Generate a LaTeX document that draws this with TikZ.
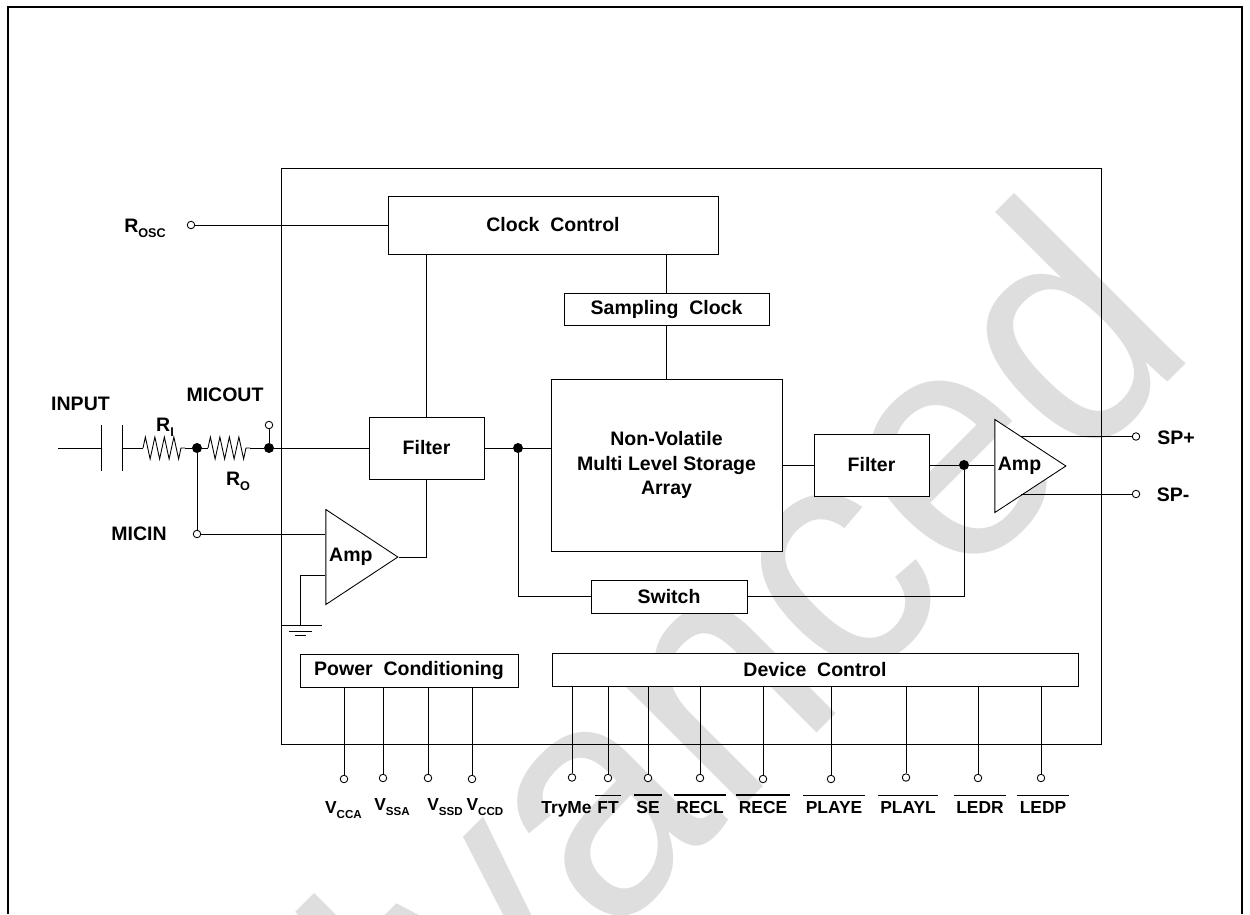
\documentclass[tikz,border=0pt]{standalone}
\usepackage{fontspec}
\setmainfont{Liberation Sans}
\newfontfamily\markfont[FakeStretch=0.92]{Liberation Sans}
\usepackage{tikz}
\usetikzlibrary{shapes.geometric, decorations.pathmorphing}
\newcommand{\pinsub}[2][7.2]{\raisebox{-3.3pt}{\fontsize{#1}{8}\selectfont #2}}
\newcommand{\pinbar}[1]{\leavevmode\vbox{\hrule height 0.7pt \kern 3pt \hbox{\kern 1.4pt #1\kern 1.4pt}}}

\begin{document}
\begin{tikzpicture}[
  x=0.02cm, y=-0.02cm, line width=0.5pt,
  box/.style={draw, fill=white, inner sep=0pt, align=center,
              font=\bfseries\fontsize{11.1}{13.7}\selectfont},
  amp/.style={draw, fill=white, isosceles triangle, isosceles triangle stretches,
              inner sep=0pt, anchor=apex, font=\bfseries\fontsize{11.1}{13.7}\selectfont},
  lbl/.style={inner sep=0pt, font=\bfseries\fontsize{11.1}{13.7}\selectfont},
  toplbl/.style={lbl, anchor=base},
  pinlbl/.style={inner sep=0pt, anchor=base, font=\bfseries\fontsize{9.9}{12}\selectfont},
  term/.style={draw, fill=white, circle, inner sep=0pt, minimum size=0.15cm},
  dot/.style={fill=black, circle, inner sep=0pt, minimum size=0.2cm},
  res/.style={decorate, decoration={zigzag, segment length=0.19cm, amplitude=0.22cm}}
]
  \useasboundingbox (0,0) rectangle (1250,914);

  % watermark
  \begin{scope}
    \clip (0,0) rectangle (1250,914);
    \node[text=black!13, inner sep=0pt, rotate=45, anchor=base east,
          font=\markfont\fontsize{190}{190}\selectfont] (mark) at (1201,349) {Advanced};
  \end{scope}

  % frames
  \draw[line width=1.2pt] (8,914) -- (8,7) -- (1242,7) -- (1242,914);
  \draw (281,168) rectangle (1101,744);

  % blocks
  \node[box, minimum width=6.6cm,  minimum height=1.16cm] (clock)     at (553,225)   {Clock~~Control};
  \node[box, minimum width=4.1cm,  minimum height=0.64cm] (sampling)  at (666.5,309) {Sampling~~Clock};
  \node[box, minimum width=4.62cm, minimum height=3.44cm] (storage)   at (666.5,465) {Non-Volatile\\Multi Level Storage\\Array};
  \node[box, minimum width=2.3cm,  minimum height=1.24cm] (filterin)  at (426.5,448) {Filter};
  \node[box, minimum width=2.3cm,  minimum height=1.24cm] (filterout) at (871.5,465) {Filter};
  \node[box, minimum width=3.12cm, minimum height=0.66cm] (switch)    at (669,596.5) {Switch};
  \node[box, minimum width=4.36cm, minimum height=0.66cm] (power)     at (409,670.5) {Power~~Conditioning};
  \node[box, minimum width=10.52cm,minimum height=0.66cm] (device)    at (815,669.5) {Device~~Control};
  \node[amp, minimum width=1.9cm,  minimum height=1.44cm] (ampin)     at (399,557)   {Amp\kern3.4pt};
  \node[amp, minimum width=1.86cm, minimum height=1.42cm] (ampout)    at (1067,466)  {Amp\kern3.4pt};

  % input side
  \coordinate (input) at (58,448);
  \coordinate (capa)  at (101,448);
  \coordinate (capb)  at (122,448);
  \coordinate (ria)   at (143,448);
  \coordinate (rib)   at (185,448);
  \coordinate (roa)   at (208,448);
  \coordinate (rob)   at (250,448);
  \node[dot]  (dotr)   at (197,448) {};
  \node[dot]  (dotc)   at (269,448) {};
  \node[dot]  (dota)   at (518,448) {};
  \node[dot]  (dotb)   at (964,465) {};
  \node[term] (micout) at (269,425) {};
  \node[term] (micin)  at (197,534) {};
  \node[term] (rosc)   at (191,225) {};

  \draw (input) -- (capa);
  \draw (capa) ++(0,-23) -- ++(0,46);
  \draw (capb) ++(0,-23) -- ++(0,46);
  \draw (capb) -- (ria);
  \draw[res] (ria) -- (rib);
  \draw (rib) -- (dotr);
  \draw (dotr) -- (roa);
  \draw[res] (roa) -- (rob);
  \draw (rob) -- (dotc);
  \draw (micout) -- (dotc);
  \draw (dotc) -- (filterin.west);
  \draw (dotr) -- (micin);
  \draw (micin) -- (micin -| ampin.lower side);

  % ground
  \coordinate (ampgnd) at (325,575);
  \coordinate (gnd)    at (300,625);
  \draw (ampgnd) -| (gnd);
  \draw (281,625) -- (322,625);
  \draw (289,631) -- (312,631);
  \draw (295,635) -- (306,635);

  % signal path
  \draw (rosc) -- (clock.west);
  \draw (clock.south -| filterin.north) -- (filterin.north);
  \draw (clock.south -| sampling.north) -- (sampling.north);
  \draw (sampling.south) -- (storage.north);
  \draw (filterin.south) |- (ampin.apex);
  \draw (filterin.east) -- (dota);
  \draw (dota) -- (dota -| storage.west);
  \draw (dota) |- (switch.west);
  \draw (switch.east) -| (dotb);
  \draw (storage.east) -- (filterout.west);
  \draw (filterout.east) -- (dotb);
  \draw (dotb) -- (dotb -| ampout.lower side);

  % outputs
  \coordinate (spa) at (1021,436.5);
  \coordinate (spb) at (1021,494);
  \node[term] (spplus)  at (1136,436.5) {};
  \node[term] (spminus) at (1136,494)   {};
  \draw (spa) -- (spplus);
  \draw (spb) -- (spminus);

  % power pins
  \node[term] (vcca) at (344,779) {};
  \node[term] (vssa) at (383,778) {};
  \node[term] (vssd) at (428,778) {};
  \node[term] (vccd) at (472,779) {};
  \draw (vcca) -- (vcca |- power.south);
  \draw (vssa) -- (vssa |- power.south);
  \draw (vssd) -- (vssd |- power.south);
  \draw (vccd) -- (vccd |- power.south);

  % device pins
  \node[term] (tryme) at (572,777.5) {};
  \node[term] (ft)    at (608,778)   {};
  \node[term] (se)    at (648,778)   {};
  \node[term] (recl)  at (700,778)   {};
  \node[term] (rece)  at (763,779)   {};
  \node[term] (playe) at (831,779)   {};
  \node[term] (playl) at (906,777.5) {};
  \node[term] (ledr)  at (978,778)   {};
  \node[term] (ledp)  at (1041,778)  {};
  \draw (tryme) -- (tryme |- device.south);
  \draw (ft)    -- (ft |- device.south);
  \draw (se)    -- (se |- device.south);
  \draw (recl)  -- (recl |- device.south);
  \draw (rece)  -- (rece |- device.south);
  \draw (playe) -- (playe |- device.south);
  \draw (playl) -- (playl |- device.south);
  \draw (ledr)  -- (ledr |- device.south);
  \draw (ledp)  -- (ledp |- device.south);

  % labels
  \node[lbl] (linput)  at (80.5,404) {INPUT};
  \node[lbl] (lmicout) at (225,395)  {MICOUT};
  \node[lbl] (lmicin)  at (139,534)  {MICIN};
  \node[toplbl] (lri)   at (165,431)   {R\pinsub{I}};
  \node[toplbl] (lro)   at (238,485)   {R\pinsub{O}};
  \node[toplbl] (lrosc) at (145,232)   {R\pinsub{OSC}};
  \node[toplbl] (lspp)  at (1176,444)  {SP+};
  \node[toplbl] (lspm)  at (1173,501)  {SP-};
  \node[pinlbl] (lvcca) at (343.5,813) {V\pinsub[6.6]{CCA}};
  \node[pinlbl] (lvssa) at (392,810)   {V\pinsub[6.6]{SSA}};
  \node[pinlbl] (lvssd) at (445,810)   {V\pinsub[6.6]{SSD}};
  \node[pinlbl] (lvccd) at (485,810)   {V\pinsub[6.6]{CCD}};
  \node[pinlbl] (ltry)  at (566.5,813) {TryMe};
  \node[pinlbl] (lft)   at (608,813)   {\pinbar{FT}};
  \node[pinlbl] (lse)   at (648,813)   {\pinbar{SE}};
  \node[pinlbl] (lrecl) at (700,813)   {\pinbar{RECL}};
  \node[pinlbl] (lrece) at (763,813)   {\pinbar{RECE}};
  \node[pinlbl] (lpe)   at (834,813)   {\pinbar{PLAYE}};
  \node[pinlbl] (lpl)   at (908,813)   {\pinbar{PLAYL}};
  \node[pinlbl] (lledr) at (980,813)   {\pinbar{LEDR}};
  \node[pinlbl] (lledp) at (1043,813)  {\pinbar{LEDP}};
\end{tikzpicture}
\end{document}
